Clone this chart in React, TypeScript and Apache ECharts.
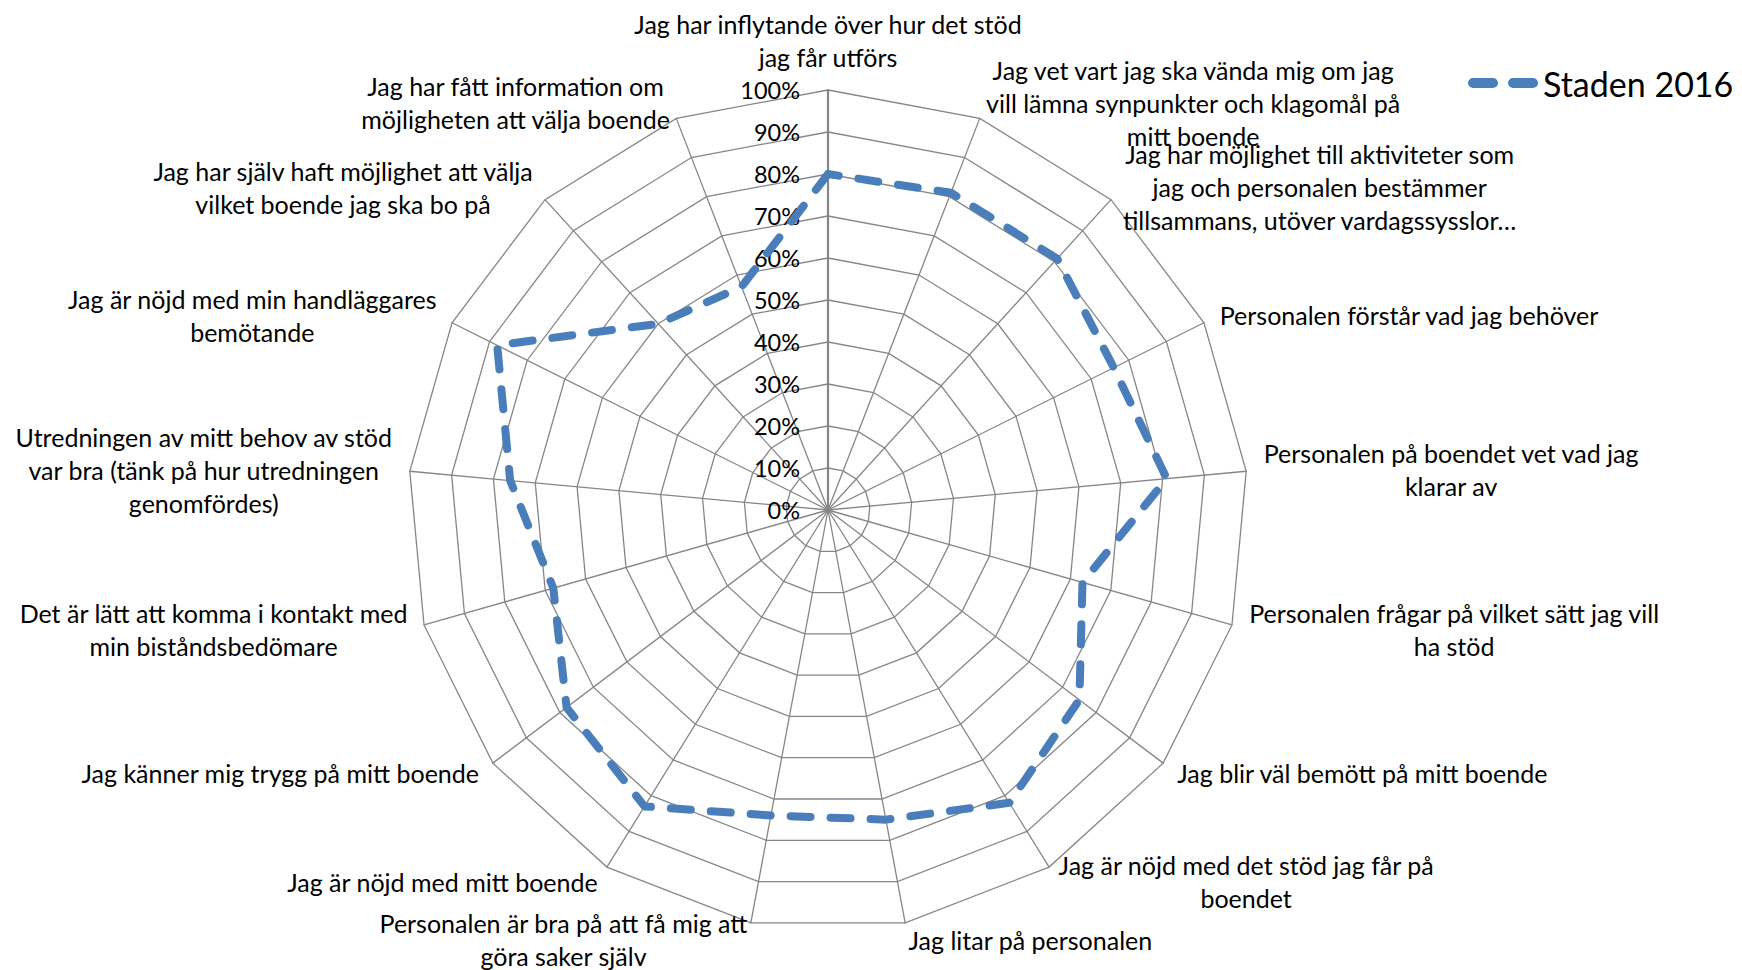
import React, { useEffect, useRef } from 'react';
import * as echarts from 'echarts';

// Categories listed clockwise from the top, as in the reference
const categories: string[] = [
  'Jag har inflytande över hur det stöd\njag får utförs',
  'Jag vet vart jag ska vända mig om jag\nvill lämna synpunkter och klagomål på\nmitt boende',
  'Jag har möjlighet till aktiviteter som\njag och personalen bestämmer\ntillsammans, utöver vardagssysslor…',
  'Personalen förstår vad jag behöver',
  'Personalen på boendet vet vad jag\nklarar av',
  'Personalen frågar på vilket sätt jag vill\nha stöd',
  'Jag blir väl bemött på mitt boende',
  'Jag är nöjd med det stöd jag får på\nboendet',
  'Jag litar på personalen',
  'Personalen är bra på att få mig att\ngöra saker själv',
  'Jag är nöjd med mitt boende',
  'Jag känner mig trygg på mitt boende',
  'Det är lätt att komma i kontakt med\nmin biståndsbedömare',
  'Utredningen av mitt behov av stöd\nvar bra (tänk på hur utredningen\ngenomfördes)',
  'Jag är nöjd med min handläggares\nbemötande',
  'Jag har själv haft möjlighet att välja\nvilket boende jag ska bo på',
  'Jag har fått information om\nmöjligheten att välja boende',
];

const seriesName = 'Staden 2016';
const stadenValues: number[] = [80, 81, 81, 76, 81, 63, 75, 82, 75, 74, 83, 78, 68, 76, 88, 60, 57];

const axisMin = 0;
const axisMax = 100;
const splitCount = 10;
const tickSuffix = '%';

const FONT = 'Lato';
const GRID = '#868686';
const BLUE = '#4A7EBB';

export default function App() {
  const ref = useRef<HTMLDivElement>(null);
  useEffect(() => {
    if (!ref.current) return;
    const chart = echarts.init(ref.current, undefined, { renderer: 'svg' });
    // ECharts radar runs counter-clockwise; reorder so the chart reads clockwise
    const order = [0, ...categories.map((_, i) => categories.length - 1 - i).slice(0, categories.length - 1)];
    const indicator = order.map((idx) => {
      const name = categories[idx];
      return idx === 0
        ? {
            name,
            min: axisMin,
            max: axisMax,
            axisLabel: {
              show: true,
              formatter: (v: number) => `${v}${tickSuffix}`,
              margin: 28,
              color: '#000',
              fontSize: 23.5,
              fontFamily: FONT,
              align: 'right',
            },
            axisLine: { lineStyle: { width: 2.2, color: GRID } },
          }
        : { name, min: axisMin, max: axisMax };
    });
    const values = order.map((idx) => stadenValues[idx]);
    chart.setOption({
      animation: false,
      backgroundColor: '#fff',
      legend: {
        data: [
          {
            name: seriesName,
            icon: 'path://M5,0 H25 A5,5 0 0 1 25,10 H5 A5,5 0 0 1 5,0 Z M45,0 H65 A5,5 0 0 1 65,10 H45 A5,5 0 0 1 45,0 Z',
          },
        ],
        left: 1468,
        top: 65,
        padding: 0,
        itemWidth: 70,
        itemHeight: 10,
        itemGap: 10,
        textStyle: { fontSize: 34, fontFamily: FONT, color: '#000', lineHeight: 36 },
        itemStyle: { color: BLUE },
      },
      radar: {
        center: [828, 510],
        radius: 420,
        startAngle: 90,
        shape: 'polygon',
        splitNumber: splitCount,
        nameGap: 17,
        indicator,
        axisName: {
          formatter: (value: string) =>
            value
              .split('\n')
              .map((l) => `{c|${l}}`)
              .join('\n'),
          rich: {
            c: { align: 'center', fontSize: 25, lineHeight: 33, fontFamily: FONT, color: '#000' },
          },
        },
        axisLine: { show: true, lineStyle: { color: GRID, width: 1.3 } },
        axisTick: { show: false },
        axisLabel: { show: false },
        splitLine: { lineStyle: { color: GRID, width: 1.3 } },
        splitArea: { show: false },
      },
      series: [
        {
          type: 'radar',
          name: seriesName,
          symbol: 'none',
          lineStyle: { color: BLUE, width: 8, type: [20, 20], cap: 'round', join: 'round' },
          itemStyle: { color: BLUE },
          data: [{ name: seriesName, value: values }],
        },
      ],
    });
    return () => chart.dispose();
  }, []);
  return (
    <div
      ref={ref}
      style={{ position: 'absolute', left: 0, top: 0, width: 1742, height: 970, background: '#fff' }}
    />
  );
}
